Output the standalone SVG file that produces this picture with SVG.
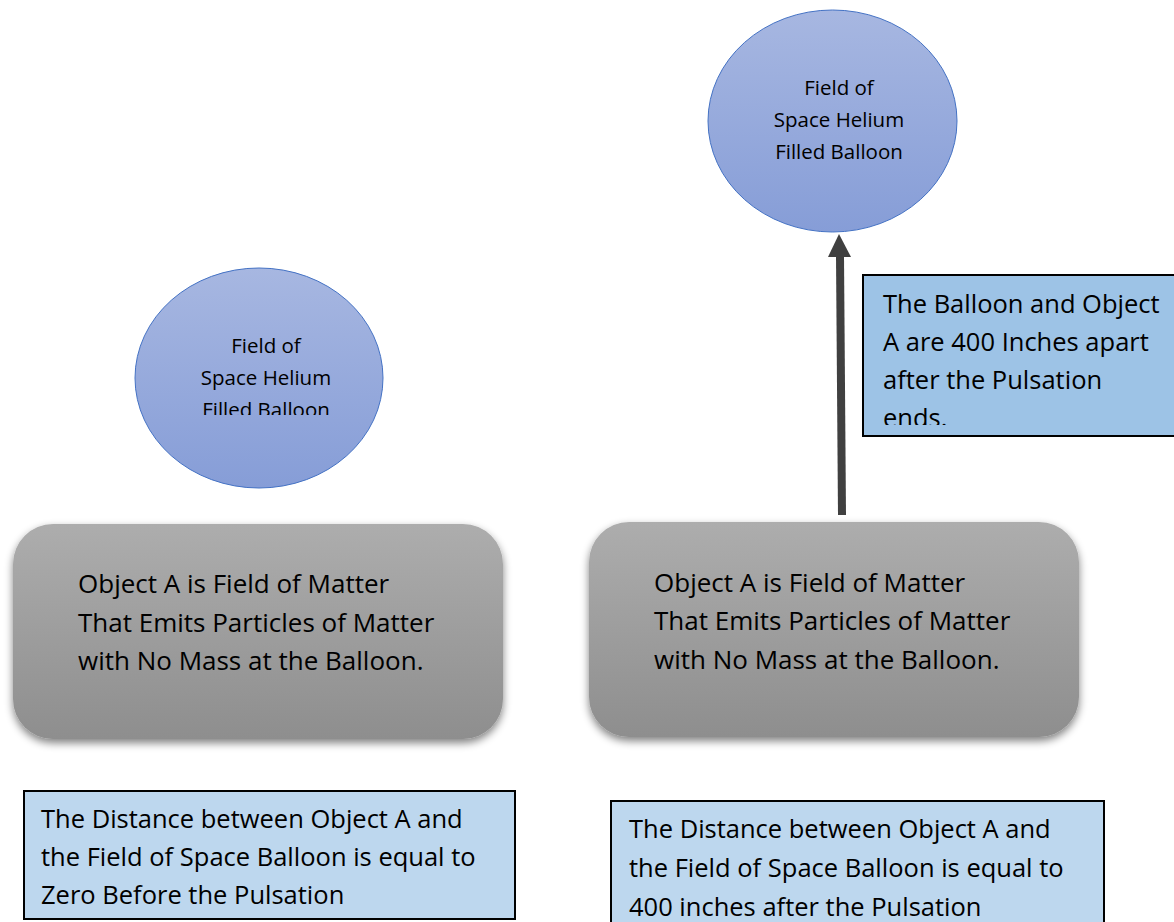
<svg xmlns="http://www.w3.org/2000/svg" width="1174" height="922" viewBox="0 0 1174 922">
<defs>
<linearGradient id="gEll" x1="0" y1="0" x2="0" y2="1">
<stop offset="0" stop-color="#a7b7e1"/>
<stop offset="1" stop-color="#869dd7"/>
</linearGradient>
<linearGradient id="gRect" x1="0" y1="0" x2="0" y2="1">
<stop offset="0" stop-color="#adadad"/>
<stop offset="1" stop-color="#8e8e8e"/>
</linearGradient>
<filter id="sh" x="-10%" y="-10%" width="120%" height="130%">
<feGaussianBlur in="SourceAlpha" stdDeviation="4"/>
<feOffset dx="0" dy="4"/>
<feComponentTransfer><feFuncA type="linear" slope="0.5"/></feComponentTransfer>
<feMerge><feMergeNode/><feMergeNode in="SourceGraphic"/></feMerge>
</filter>
<clipPath id="cL"><rect x="130" y="260" width="260" height="155"/></clipPath>
<clipPath id="cTR"><rect x="862" y="274" width="312" height="151"/></clipPath>
</defs>
<style>
.ell{fill:url(#gEll);stroke:#4472c4;stroke-width:1}
.grect{fill:url(#gRect);filter:url(#sh)}
.box{stroke:#000;stroke-width:2}
.t{font-family:"Open Sans","Liberation Sans",sans-serif;fill:#000}
.s{font-size:20.5px;text-anchor:middle}
.b{font-size:26px}
.n{font-size:25.5px}
</style>
<g id="connectors">
<line x1="842" y1="515" x2="840" y2="256" stroke="#404040" stroke-width="8"/>
<polygon points="839,234 851,257 828,257" fill="#404040"/>
</g>
<g id="balloon-left">
<ellipse class="ell" cx="259" cy="378" rx="124" ry="110"/>
<g clip-path="url(#cL)">
<text class="t s" x="266" y="353">Field of</text>
<text class="t s" x="266" y="385">Space Helium</text>
<text class="t s" x="266" y="417">Filled Balloon</text>
</g>
</g>
<g id="balloon-right">
<ellipse class="ell" cx="832.5" cy="121" rx="124.5" ry="111"/>
<text class="t s" x="839" y="95">Field of</text>
<text class="t s" x="839" y="127">Space Helium</text>
<text class="t s" x="839" y="159">Filled Balloon</text>
</g>
<g id="object-left">
<rect class="grect" x="13" y="524" width="490" height="215" rx="40"/>
<text class="t b" x="78" y="593">Object A is Field of Matter</text>
<text class="t b" x="78" y="632">That Emits Particles of Matter</text>
<text class="t b" x="78" y="670">with No Mass at the Balloon.</text>
</g>
<g id="object-right">
<rect class="grect" x="589" y="522" width="490" height="215" rx="40"/>
<text class="t b" x="654" y="592">Object A is Field of Matter</text>
<text class="t b" x="654" y="630">That Emits Particles of Matter</text>
<text class="t b" x="654" y="669">with No Mass at the Balloon.</text>
</g>
<g id="note-top-right">
<rect class="box" x="863" y="275" width="320" height="161" fill="#9dc3e6"/>
<g clip-path="url(#cTR)">
<text class="t n" x="883" y="313">The Balloon and Object</text>
<text class="t n" x="883" y="351">A are 400 Inches apart</text>
<text class="t n" x="883" y="389">after the Pulsation</text>
<text class="t n" x="883" y="427">ends.</text>
</g>
</g>
<g id="note-bottom-left">
<rect class="box" x="24" y="791" width="491" height="128" fill="#bdd7ee"/>
<text class="t n" x="41" y="828">The Distance between Object A and</text>
<text class="t n" x="41" y="866">the Field of Space Balloon is equal to</text>
<text class="t n" x="41" y="904">Zero Before the Pulsation</text>
</g>
<g id="note-bottom-right">
<rect class="box" x="611" y="801" width="493" height="130" fill="#bdd7ee"/>
<text class="t n" x="629" y="838">The Distance between Object A and</text>
<text class="t n" x="629" y="877">the Field of Space Balloon is equal to</text>
<text class="t n" x="629" y="916">400 inches after the Pulsation</text>
</g>
</svg>
